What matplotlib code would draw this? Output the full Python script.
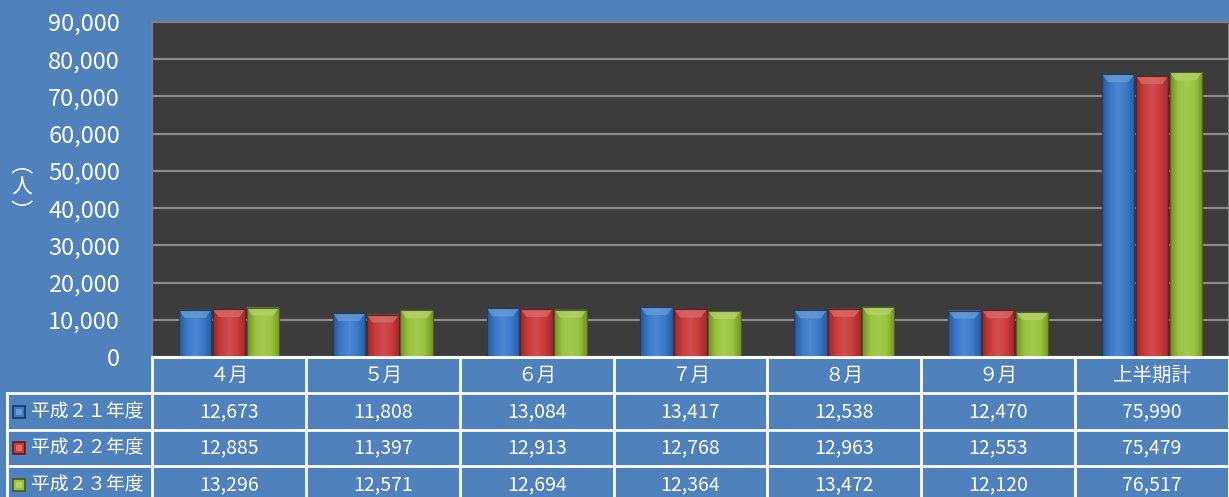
import numpy as np
import matplotlib
matplotlib.use("Agg")
import matplotlib.pyplot as plt
from matplotlib.colors import LinearSegmentedColormap, to_rgb
from matplotlib.patches import Rectangle, Polygon
from matplotlib.lines import Line2D
import matplotlib.transforms as mtransforms

plt.rcParams['font.family'] = ['Noto Sans CJK JP', 'DejaVu Sans']

# データ
months = ["４月", "５月", "６月", "７月", "８月", "９月", "上半期計"]
series_names = ["平成２１年度", "平成２２年度", "平成２３年度"]
h21 = [12673, 11808, 13084, 13417, 12538, 12470, 75990]
h22 = [12885, 11397, 12913, 12768, 12963, 12553, 75479]
h23 = [13296, 12571, 12694, 12364, 13472, 12120, 76517]
colors = ["#3a7acb", "#cc3b3b", "#9bc43c"]

BG = "#4f81bd"
W, H = 1229, 497

fig = plt.figure(figsize=(W / 100, H / 100), dpi=100, facecolor=BG)
ax = fig.add_axes([152 / W, 1 - 357 / H, (W - 152) / W, (357 - 22) / H])
ax.set_facecolor("#3c3c3c")

x = np.arange(len(months))
bw = 0.21
offs = [-0.22, 0, 0.22]


def shade(c, f):
    r, g, b = to_rgb(c)
    if f < 1:
        return (r * f, g * f, b * f)
    return (r + (1 - r) * (f - 1), g + (1 - g) * (f - 1), b + (1 - b) * (f - 1))


bevel = 8 * 90000 / 335  # 上面の面取り（約8px分）
for vals, off, c in zip([h21, h22, h23], offs, colors):
    bars = ax.bar(x + off, vals, bw, color=c, edgecolor=shade(c, 0.5),
                  linewidth=0.8, zorder=3)
    cmap = LinearSegmentedColormap.from_list(
        "g", [shade(c, 0.72), c, shade(c, 1.1), c, shade(c, 0.75)])
    grad = np.linspace(0, 1, 64).reshape(1, -1)
    for b in bars:
        bx, by, bwid, bh = b.get_x(), b.get_y(), b.get_width(), b.get_height()
        im = ax.imshow(grad, extent=[bx, bx + bwid, by, by + bh],
                       aspect="auto", cmap=cmap, zorder=3.5, interpolation="bicubic")
        im.set_clip_path(b)
        ins = bwid * 0.18
        ax.add_patch(Polygon([(bx, bh), (bx + bwid, bh), (bx + bwid - ins, bh - bevel),
                              (bx + ins, bh - bevel)], closed=True,
                             facecolor=shade(c, 1.25), edgecolor="none", alpha=0.75, zorder=3.6))
        ax.add_patch(Rectangle((bx, by), bwid, bh, facecolor="none",
                               edgecolor=shade(c, 0.5), lw=0.8, zorder=3.7))

ax.set_xlim(-0.5, len(months) - 0.5)
ax.set_ylim(0, 90000)
ax.set_yticks(np.arange(0, 90001, 10000))
ax.yaxis.set_major_formatter(matplotlib.ticker.FuncFormatter(lambda v, p: f"{int(v):,}"))
ax.tick_params(axis="y", colors="white", labelsize=17, length=0, pad=23)
ax.set_xticks([])
ax.grid(axis="y", color="#8c8c8c", linewidth=1.6, zorder=1)
ax.set_axisbelow(True)
for s in ["top", "left", "right"]:
    ax.spines[s].set_color("#808080")
    ax.spines[s].set_linewidth(1.5)
ax.spines["bottom"].set_color("white")
ax.spines["bottom"].set_linewidth(2)

# 縦軸ラベル（人）: 縦書き用の括弧
fig.text(22 / W, 1 - 165 / H, "︵", color="white", fontsize=16,
         ha="center", va="center")
fig.text(22 / W, 1 - 188 / H, "人", color="white", fontsize=15,
         ha="center", va="center")
fig.text(22 / W, 1 - 212 / H, "︶", color="white", fontsize=16,
         ha="center", va="center")

# データテーブル
tr = mtransforms.blended_transform_factory(ax.transData, fig.transFigure)
row_px = [357, 393, 430, 466, 503]
rows_y = [1 - p / H for p in row_px]
lw = 2

for i in range(len(months) + 1):
    fig.add_artist(Line2D([i - 0.5, i - 0.5], [rows_y[0], 0], transform=tr,
                          color="white", lw=lw))
for k, yy in enumerate(rows_y[:4]):
    x0 = 7 / W if k > 0 else 152 / W
    fig.add_artist(Line2D([x0, 1], [yy, yy], transform=fig.transFigure,
                          color="white", lw=lw))
fig.add_artist(Line2D([7 / W, 7 / W], [rows_y[1], 0], transform=fig.transFigure,
                      color="white", lw=lw))

hy = (rows_y[0] + rows_y[1]) / 2
for i, m in enumerate(months):
    fig.text(i, hy, m, transform=tr, color="white", fontsize=14,
             ha="center", va="center")

for r, (name, vals, c) in enumerate(zip(series_names, [h21, h22, h23], colors)):
    cy = (rows_y[r + 1] + rows_y[r + 2]) / 2
    if r == 2:
        cy = 1 - 485 / H
    fig.add_artist(Rectangle((13 / W, cy - 6 / H), 12 / W, 12 / H,
                             transform=fig.transFigure, facecolor=c,
                             edgecolor=shade(c, 0.45), lw=1.2))
    fig.add_artist(Rectangle((16 / W, cy - 3 / H), 6 / W, 6 / H,
                             transform=fig.transFigure, facecolor=shade(c, 1.25),
                             edgecolor="none"))
    fig.text(31 / W, cy, name, color="white", fontsize=13.5, ha="left", va="center")
    for i, v in enumerate(vals):
        fig.text(i, cy, f"{v:,}", transform=tr, color="white", fontsize=14,
                 ha="center", va="center")

fig.savefig("out.png", dpi=100, facecolor=BG)
